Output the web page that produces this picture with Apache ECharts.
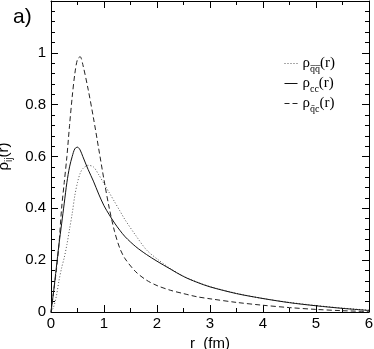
<!DOCTYPE html>
<html lang="en">
<head>
    <meta charset="UTF-8">
    <title>rho_ij(r)</title>
    <script src="https://cdn.jsdelivr.net/npm/echarts@6/dist/echarts.min.js"></script>
    <style>
        html, body { margin: 0; padding: 0; background: #fff; }
    </style>
</head>
<body>
<div id="main" style="width: 374px;height:349px;"></div>
<script type="text/javascript">
    // r in fm
    var rValues = [0, 0.05, 0.1, 0.15, 0.2, 0.25, 0.3, 0.35, 0.4, 0.45, 0.5, 0.55, 0.6, 0.7, 0.8, 0.9, 1.0,
        1.1, 1.2, 1.3, 1.4, 1.6, 1.8, 2.0, 2.25, 2.5, 2.75, 3.0, 3.5, 4.0, 4.5, 5.0, 5.5, 6.0];
    // rho_{q qbar}(r), dotted
    var rhoQQ = [0, 0.02, 0.06, 0.12, 0.17, 0.21, 0.26, 0.32, 0.38, 0.45, 0.50, 0.535, 0.553, 0.566, 0.56,
        0.53, 0.495, 0.46, 0.425, 0.39, 0.355, 0.295, 0.24, 0.205, 0.168, 0.138, 0.116, 0.098, 0.072,
        0.052, 0.037, 0.025, 0.015, 0.007];
    // rho_{cc}(r), solid
    var rhoCC = [0, 0.08, 0.17, 0.26, 0.34, 0.42, 0.50, 0.56, 0.60, 0.63, 0.636, 0.625, 0.60, 0.55, 0.505,
        0.455, 0.41, 0.375, 0.343, 0.315, 0.29, 0.252, 0.222, 0.196, 0.166, 0.137, 0.115, 0.097, 0.071,
        0.052, 0.036, 0.024, 0.014, 0.006];
    // rho_{qbar c}(r), dashed
    var rhoQC = [0, 0.08, 0.16, 0.26, 0.40, 0.50, 0.60, 0.72, 0.83, 0.92, 0.975, 0.985, 0.955, 0.86, 0.75,
        0.63, 0.51, 0.40, 0.31, 0.245, 0.205, 0.155, 0.123, 0.102, 0.084, 0.071, 0.059, 0.051, 0.037,
        0.026, 0.017, 0.010, 0.005, 0.002];

    var xTicks = [0, 6, 1];      // min, max, interval
    var yTicks = [0, 1.2, 0.2];

    function pairs(ys) {
        return rValues.map(function (r, i) { return [r, ys[i]]; });
    }

    var myChart = echarts.init(document.getElementById('main'));

    var sans = 'Liberation Sans';
    var serif = 'Liberation Serif';

    var richLegend = {
        r: {fontFamily: serif, fontSize: 15, color: '#000', verticalAlign: 'bottom'},
        s: {fontFamily: serif, fontSize: 10, color: '#000', verticalAlign: 'bottom', padding: [0, 0, -3, 0]}
    };

    function frameAxis(pos, isX) {
        return {
            type: 'value',
            position: pos,
            min: isX ? xTicks[0] : yTicks[0],
            max: isX ? xTicks[1] : yTicks[1],
            interval: isX ? xTicks[2] : yTicks[2],
            axisLine: {show: true, onZero: false, lineStyle: {color: '#000', width: 1}},
            axisTick: {show: true, inside: true, length: 7, lineStyle: {color: '#000'}},
            minorTick: {show: true, splitNumber: isX ? 2 : 5, length: 4, lineStyle: {color: '#000'}},
            splitLine: {show: false},
            axisLabel: {show: false}
        };
    }

    var xBottom = frameAxis('bottom', true);
    xBottom.axisLabel = {show: true, color: '#000', fontFamily: sans, fontSize: 15, margin: 4};
    xBottom.name = 'r  (fm)';
    xBottom.nameLocation = 'middle';
    xBottom.nameGap = 20;
    xBottom.nameTextStyle = {color: '#000', fontFamily: sans, fontSize: 15};

    var yLeft = frameAxis('left', false);
    yLeft.axisLabel = {
        show: true, color: '#000', fontFamily: sans, fontSize: 15, margin: 5, showMaxLabel: false,
        formatter: function (v) { return String(Math.round(v * 10) / 10); }
    };
    yLeft.name = '{r|ρ}{s|ij}{r|(r)}';
    yLeft.nameLocation = 'middle';
    yLeft.nameGap = 23;
    yLeft.nameTextStyle = {
        rich: {
            r: {fontFamily: sans, fontSize: 15, color: '#000', verticalAlign: 'bottom'},
            s: {fontFamily: sans, fontSize: 10, color: '#000', verticalAlign: 'bottom', padding: [0, 0, -3, 0]}
        }
    };

    var option = {
        backgroundColor: '#fff',
        animation: false,
        grid: {left: 51, right: 5, top: 1, bottom: 37, outerBoundsMode: 'none', containLabel: false},
        title: {
            text: 'a)', left: 8, top: 2,
            textStyle: {fontFamily: sans, fontSize: 21, fontWeight: 'normal', color: '#000'}
        },
        legend: {
            orient: 'vertical',
            left: 279,
            top: 51,
            itemWidth: 13,
            itemHeight: 12,
            itemGap: 2,
            itemStyle: {opacity: 0},
            lineStyle: {width: 1},
            data: ['qq', 'cc', 'qc'],
            formatter: function (name) {
                if (name === 'qq') return '{r|ρ}{s|q̅q̅}{r|(r)}';
                if (name === 'cc') return '{r|ρ}{s|cc}{r|(r)}';
                return '{r|ρ}{s|q̄c}{r|(r)}';
            },
            textStyle: {rich: richLegend}
        },
        xAxis: [xBottom, frameAxis('top', true)],
        yAxis: [yLeft, frameAxis('right', false)],
        series: [
            {
                name: 'qq', type: 'line', data: pairs(rhoQQ), symbol: 'none', smooth: 0.3,
                itemStyle: {color: '#555'},
                lineStyle: {color: '#555', width: 1, type: [1, 2]}
            },
            {
                name: 'cc', type: 'line', data: pairs(rhoCC), symbol: 'none', smooth: 0.3,
                itemStyle: {color: '#111'},
                lineStyle: {color: '#111', width: 1, type: 'solid'}
            },
            {
                name: 'qc', type: 'line', data: pairs(rhoQC), symbol: 'none', smooth: 0.3,
                itemStyle: {color: '#222'},
                lineStyle: {color: '#222', width: 1, type: [5, 3]}
            }
        ]
    };
    myChart.setOption(option);
</script>
</body>
</html>
